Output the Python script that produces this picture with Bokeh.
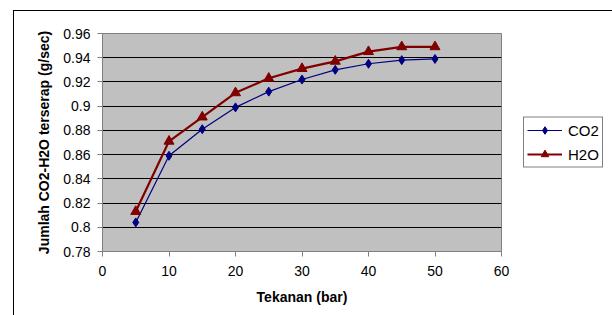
from bokeh.plotting import figure
from bokeh.models import Legend, LegendItem, FixedTicker, Range1d
from bokeh.embed import file_html
from bokeh.resources import INLINE

pressure = [5, 10, 15, 20, 25, 30, 35, 40, 45, 50]
co2 = [0.804, 0.859, 0.881, 0.899, 0.912, 0.922, 0.930, 0.935, 0.938, 0.939]
h2o = [0.813, 0.871, 0.891, 0.911, 0.923, 0.931, 0.937, 0.945, 0.949, 0.949]
x_ticks = [0, 10, 20, 30, 40, 50, 60]
y_ticks = [0.78, 0.80, 0.82, 0.84, 0.86, 0.88, 0.90, 0.92, 0.94, 0.96]
y_labels = {0.78: "0.78", 0.80: "0.8", 0.82: "0.82", 0.84: "0.84", 0.86: "0.86",
            0.88: "0.88", 0.90: "0.9", 0.92: "0.92", 0.94: "0.94", 0.96: "0.96"}

FONT = "Liberation Sans"

p = figure(width=596, height=310, output_backend="svg", toolbar_location=None,
           x_range=Range1d(0, 60), y_range=Range1d(0.78, 0.96),
           min_border_left=88, min_border_right=109, min_border_top=22, min_border_bottom=70)
p.frame_width = 399
p.frame_height = 218
p.margin = (10, 0, 0, 13)
p.styles = {"border": "1.5px solid black", "box-sizing": "content-box"}

p.background_fill_color = "#C0C0C0"
p.border_fill_color = "white"
p.outline_line_color = "#808080"
p.outline_line_width = 1

p.xgrid.grid_line_color = None
p.ygrid.grid_line_color = "black"
p.ygrid.grid_line_width = 1

for ax in (p.xaxis[0], p.yaxis[0]):
    ax.axis_line_color = "#808080"
    ax.major_tick_line_color = "#808080"
    ax.major_tick_out = 5
    ax.major_tick_in = 0
    ax.minor_tick_line_color = None
    ax.major_label_text_font = FONT
    ax.major_label_text_font_size = "14px"
    ax.major_label_text_color = "black"
    ax.axis_label_text_font = FONT
    ax.axis_label_text_font_size = "14px"
    ax.axis_label_text_font_style = "bold"
    ax.axis_label_text_color = "black"

p.xaxis.ticker = FixedTicker(ticks=x_ticks)
p.yaxis.ticker = FixedTicker(ticks=y_ticks)
p.yaxis.major_label_overrides = {t: y_labels[t] for t in y_ticks}
p.xaxis.axis_label = "Tekanan (bar)"
p.yaxis.axis_label = "Jumlah CO2-H2O terserap (g/sec)"
p.xaxis.major_label_standoff = 9
p.yaxis.major_label_standoff = 7
p.xaxis.axis_label_standoff = 10
p.yaxis.axis_label_standoff = 8

l1 = p.line(pressure, co2, line_color="#000080", line_width=1.2)
m1 = p.scatter(pressure, co2, marker="diamond", size=9, fill_color="#000080", line_color="#000080")
l2 = p.line(pressure, h2o, line_color="#800000", line_width=2.2)
m2 = p.scatter(pressure, h2o, marker="triangle", size=10, fill_color="#800000", line_color="#800000")

legend = Legend(items=[LegendItem(label="CO2", renderers=[l1, m1]),
                       LegendItem(label="H2O", renderers=[l2, m2])],
                location="center_left", orientation="vertical")
legend.label_text_font = FONT
legend.label_text_font_size = "15px"
legend.label_text_color = "black"
legend.glyph_width = 35
legend.glyph_height = 19
legend.spacing = 5
legend.padding = 3
legend.margin = 22
legend.label_standoff = 6
legend.border_line_color = "black"
legend.border_line_width = 1
legend.background_fill_color = "white"
legend.background_fill_alpha = 1
p.add_layout(legend, "right")

open("out.html", "w").write(file_html(p, INLINE))
